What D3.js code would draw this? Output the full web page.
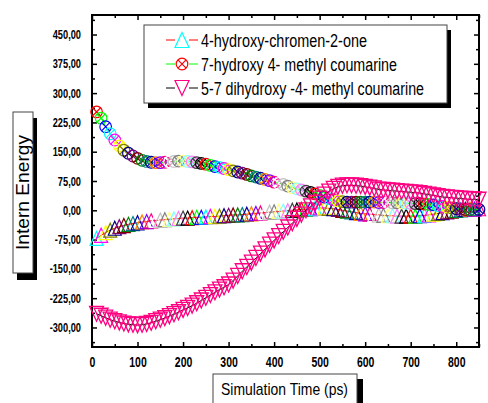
<!DOCTYPE html>
<html>
<head>
<meta charset="utf-8">
<script src="https://cdn.jsdelivr.net/npm/d3@7"></script>
<style>
  body { margin: 0; background: #fff; }
  text { font-family: Arial, "Liberation Sans", sans-serif; }
</style>
</head>
<body>
<svg id="chart" width="488" height="403"></svg>
<script>
// simulation time (ps)
const times = [10, 20, 30, 40, 50, 60, 70, 80, 90, 100,
    110, 120, 130, 140, 150, 160, 170, 180, 190, 200,
    210, 220, 230, 240, 250, 260, 270, 280, 290, 300,
    310, 320, 330, 340, 350, 360, 370, 380, 390, 400,
    410, 420, 430, 440, 450, 460, 470, 480, 490, 500,
    510, 520, 530, 540, 550, 560, 570, 580, 590, 600,
    610, 620, 630, 640, 650, 660, 670, 680, 690, 700,
    710, 720, 730, 740, 750, 760, 770, 780, 790, 800,
    810, 820, 830, 840, 850];

// 4-hydroxy-chromen-2-one
const chromenone = [-72, -64, -57, -51, -46, -42, -39, -36, -34, -32,
    -30, -29, -27, -26, -25, -24, -23, -22, -21, -20,
    -20, -19, -18, -18, -17, -16, -16, -15, -14, -13,
    -12, -12, -11, -10, -9, -8, -7, -6, -5, -4,
    -3, -2, -1, 0, 1, 2, 3, 4, 5, 6,
    6, 5, 4, 2, 0, -2, -4, -6, -8, -9,
    -10, -11, -12, -13, -14, -14, -15, -15, -15, -15,
    -15, -14, -13, -12, -10, -8, -6, -4, -2, 0,
    1, 2, 3, 3, 4];

// 7-hydroxy 4- methyl coumarine
const hydroxyCoumarine = [252, 236, 214, 196, 180, 165, 154, 146, 139, 133,
    128, 125, 123, 122, 122, 123, 124, 125, 126, 126,
    125, 124, 122, 120, 118, 115, 112, 110, 107, 104,
    101, 98, 95, 92, 88, 85, 82, 79, 76, 72,
    69, 66, 62, 58, 55, 52, 49, 46, 42, 38,
    34, 30, 27, 24, 22, 21, 21, 21, 21, 21,
    21, 21, 20, 20, 20, 19, 19, 19, 18, 18,
    17, 17, 16, 15, 14, 12, 10, 8, 6, 4,
    3, 2, 2, 2, 2];

// 5-7 dihydroxy -4- methyl coumarine
const dihydroxyCoumarine = [-265, -270, -275, -280, -284, -287, -290, -292, -293, -294,
    -293, -291, -288, -284, -280, -276, -271, -266, -261, -255,
    -250, -244, -238, -231, -224, -217, -210, -203, -197, -190,
    -180, -168, -156, -145, -134, -122, -111, -100, -88, -77,
    -66, -55, -44, -33, -22, -11, 0, 10, 19, 30,
    40, 48, 55, 60, 63, 64, 64, 63, 62, 60,
    58, 56, 53, 52, 51, 50, 49, 48, 47, 46,
    45, 44, 42, 40, 38, 36, 34, 33, 32, 31,
    30, 29, 28, 28, 27];

const seriesNames = ["4-hydroxy-chromen-2-one", "7-hydroxy 4- methyl coumarine", "5-7 dihydroxy -4- methyl coumarine"];

const xTicks = [0, 100, 200, 300, 400, 500, 600, 700, 800];
const xMinor = [50, 150, 250, 350, 450, 550, 650, 750, 850];
const yTicks = [-300, -225, -150, -75, 0, 75, 150, 225, 300, 375, 450];
const yMinor = [-337.5, -262.5, -187.5, -112.5, -37.5, 37.5, 112.5, 187.5, 262.5, 337.5, 412.5, 487.5];

// Origin's incrementing colour list
const originColours = ["#000000", "#ff0000", "#00ff00", "#0000ff", "#00ffff", "#ff00ff",
    "#ffff00", "#808000", "#000080", "#800080", "#800000", "#008000", "#008080",
    "#0000a0", "#ff8000", "#8000ff", "#ff0080", "#ffffff", "#c0c0c0", "#808080",
    "#ffff80", "#80ffff", "#ff80ff", "#404040"];

const svg = d3.select("#chart");

const plotLeft = 92, plotRight = 479, plotTop = 15, plotBottom = 347;
const x = d3.scaleLinear().domain([0, 850]).range([plotLeft, plotRight]);
const y = d3.scaleLinear().domain([-350, 500]).range([plotBottom, plotTop]);

// symbol paths
function triUp(w, h) {
    return "M0," + (-h / 2) + "L" + (w / 2) + "," + (h / 2) + "L" + (-w / 2) + "," + (h / 2) + "Z";
}
function triDown(w, h) {
    return "M0," + (h / 2) + "L" + (w / 2) + "," + (-h / 2) + "L" + (-w / 2) + "," + (-h / 2) + "Z";
}
function circleX(g, r, colour) {
    g.append("circle").attr("r", r).attr("fill", "none").attr("stroke", colour);
    const d = r * Math.SQRT1_2;
    g.append("path")
        .attr("d", "M" + (-d) + "," + (-d) + "L" + d + "," + d + "M" + d + "," + (-d) + "L" + (-d) + "," + d)
        .attr("fill", "none").attr("stroke", colour);
}

// axes (ticks point inwards)
function styleAxis(g) {
    g.select(".domain").remove();
    g.selectAll("line").attr("stroke", "#000").attr("stroke-width", 1.5);
}
const fmtY = function (v) { return d3.format(".2f")(v).replace(".", ",").replace("−", "-"); };

svg.append("g").attr("transform", "translate(0," + plotBottom + ")")
    .call(d3.axisBottom(x).tickValues(xTicks).tickSize(-5).tickSizeOuter(0).tickFormat(d3.format("d")))
    .call(styleAxis)
    .call(function (g) {
        g.selectAll("text")
            .attr("y", 0).attr("dy", null)
            .attr("transform", "translate(0,20) scale(0.7,1)")
            .attr("font-size", 15).attr("font-weight", "bold").attr("fill", "#000");
    });
svg.append("g").attr("transform", "translate(0," + plotBottom + ")")
    .call(d3.axisBottom(x).tickValues(xMinor).tickSize(-3).tickSizeOuter(0).tickFormat(""))
    .call(styleAxis);
svg.append("g").attr("transform", "translate(0," + plotTop + ")")
    .call(d3.axisTop(x).tickValues(xTicks).tickSize(-5).tickSizeOuter(0).tickFormat(""))
    .call(styleAxis);
svg.append("g").attr("transform", "translate(0," + plotTop + ")")
    .call(d3.axisTop(x).tickValues(xMinor).tickSize(-3).tickSizeOuter(0).tickFormat(""))
    .call(styleAxis);

svg.append("g").attr("transform", "translate(" + plotLeft + ",0)")
    .call(d3.axisLeft(y).tickValues(yTicks).tickSize(-5).tickSizeOuter(0).tickFormat(fmtY))
    .call(styleAxis)
    .call(function (g) {
        g.selectAll("text")
            .attr("x", 0).attr("dy", null)
            .attr("transform", "translate(-11,4) scale(0.74,1)")
            .attr("font-size", 12.5).attr("font-weight", "bold").attr("fill", "#000");
    });
svg.append("g").attr("transform", "translate(" + plotLeft + ",0)")
    .call(d3.axisLeft(y).tickValues(yMinor).tickSize(-3).tickSizeOuter(0).tickFormat(""))
    .call(styleAxis);
svg.append("g").attr("transform", "translate(" + plotRight + ",0)")
    .call(d3.axisRight(y).tickValues(yTicks).tickSize(-5).tickSizeOuter(0).tickFormat(""))
    .call(styleAxis);
svg.append("g").attr("transform", "translate(" + plotRight + ",0)")
    .call(d3.axisRight(y).tickValues(yMinor).tickSize(-3).tickSizeOuter(0).tickFormat(""))
    .call(styleAxis);

// frame
svg.append("rect")
    .attr("x", plotLeft).attr("y", plotTop)
    .attr("width", plotRight - plotLeft).attr("height", plotBottom - plotTop)
    .attr("fill", "none").attr("stroke", "#000").attr("stroke-width", 2);

// series
const line = d3.line()
    .x(function (d) { return x(d[0]); })
    .y(function (d) { return y(d[1]); });

function pairs(vals) {
    return times.map(function (t, i) { return [t, vals[i]]; });
}

const plot = svg.append("g");

// series 1: triangles up, colours cycle from cyan
plot.append("path").datum(pairs(chromenone))
    .attr("d", line).attr("fill", "none").attr("stroke", "#ff0000").attr("stroke-width", 1);
plot.append("g").selectAll("path")
    .data(pairs(chromenone))
  .enter()
  .append("path")
    .attr("transform", function (d) { return "translate(" + x(d[0]) + "," + y(d[1]) + ")"; })
    .attr("d", triUp(13, 14))
    .attr("fill", "none")
    .attr("stroke-width", 1.2)
    .attr("stroke", function (d, i) { return originColours[(i + 4) % originColours.length]; });

// series 2: crossed circles, colours cycle from red
plot.append("path").datum(pairs(hydroxyCoumarine))
    .attr("d", line).attr("fill", "none").attr("stroke", "#00ff00").attr("stroke-width", 1);
plot.append("g").selectAll("g")
    .data(pairs(hydroxyCoumarine))
  .enter()
  .append("g")
    .attr("transform", function (d) { return "translate(" + x(d[0]) + "," + y(d[1]) + ")"; })
    .attr("stroke-width", 1.2)
    .each(function (d, i) {
        circleX(d3.select(this), 5.8, originColours[(i + 1) % originColours.length]);
    });

// series 3: pink triangles down
plot.append("path").datum(pairs(dihydroxyCoumarine))
    .attr("d", line).attr("fill", "none").attr("stroke", "#000").attr("stroke-width", 1);
plot.append("g").selectAll("path")
    .data(pairs(dihydroxyCoumarine))
  .enter()
  .append("path")
    .attr("transform", function (d) { return "translate(" + x(d[0]) + "," + y(d[1]) + ")"; })
    .attr("d", triDown(14, 15))
    .attr("fill", "none")
    .attr("stroke-width", 1.3)
    .attr("stroke", "#ff0080");

// legend
const legend = svg.append("g");
legend.append("rect").attr("x", 148).attr("y", 30).attr("width", 303).attr("height", 78).attr("fill", "#000");
legend.append("rect").attr("x", 144).attr("y", 25).attr("width", 303).attr("height", 78)
    .attr("fill", "#fff").attr("stroke", "#444").attr("stroke-width", 1);

const legendLine = ["#ff0000", "#00ff00", "#000000"];
const legendWidth = [166, 196, 223];
seriesNames.forEach(function (name, i) {
    const cy = 40 + i * 24;
    const row = legend.append("g");
    row.append("line").attr("x1", 166).attr("x2", 175).attr("y1", cy).attr("y2", cy)
        .attr("stroke", legendLine[i]).attr("stroke-width", 1);
    row.append("line").attr("x1", 189).attr("x2", 198).attr("y1", cy).attr("y2", cy)
        .attr("stroke", legendLine[i]).attr("stroke-width", 1);
    const sym = row.append("g").attr("transform", "translate(182," + cy + ")").attr("stroke-width", 1.2);
    if (i === 0) {
        sym.append("path").attr("d", triUp(14, 15)).attr("fill", "none").attr("stroke", "#00ffff");
    } else if (i === 1) {
        circleX(sym, 5.8, "#ff0000");
    } else {
        sym.append("path").attr("d", triDown(14, 15)).attr("fill", "none").attr("stroke", "#ff0080");
    }
    row.append("text")
        .attr("x", 201).attr("y", cy + 7)
        .attr("font-size", 18)
        .attr("textLength", legendWidth[i])
        .attr("lengthAdjust", "spacingAndGlyphs")
        .text(name);
});

// y axis title box
const yTitle = svg.append("g");
yTitle.append("rect").attr("x", 17).attr("y", 118).attr("width", 20).attr("height", 162).attr("fill", "#000");
yTitle.append("rect").attr("x", 13).attr("y", 112).attr("width", 20).attr("height", 161)
    .attr("fill", "#fff").attr("stroke", "#444").attr("stroke-width", 1);
yTitle.append("text")
    .attr("transform", "translate(29,192.5) rotate(-90)")
    .attr("text-anchor", "middle")
    .attr("font-size", 18)
    .attr("textLength", 115)
    .attr("lengthAdjust", "spacingAndGlyphs")
    .text("Intern Energy");

// x axis title box
const xTitle = svg.append("g");
xTitle.append("rect").attr("x", 218).attr("y", 379).attr("width", 145).attr("height", 40).attr("fill", "#000");
xTitle.append("rect").attr("x", 213).attr("y", 374).attr("width", 144).attr("height", 40)
    .attr("fill", "#fff").attr("stroke", "#444").attr("stroke-width", 1);
xTitle.append("text")
    .attr("x", 221).attr("y", 395)
    .attr("font-size", 17)
    .attr("textLength", 127)
    .attr("lengthAdjust", "spacingAndGlyphs")
    .text("Simulation Time (ps)");
</script>
</body>
</html>
